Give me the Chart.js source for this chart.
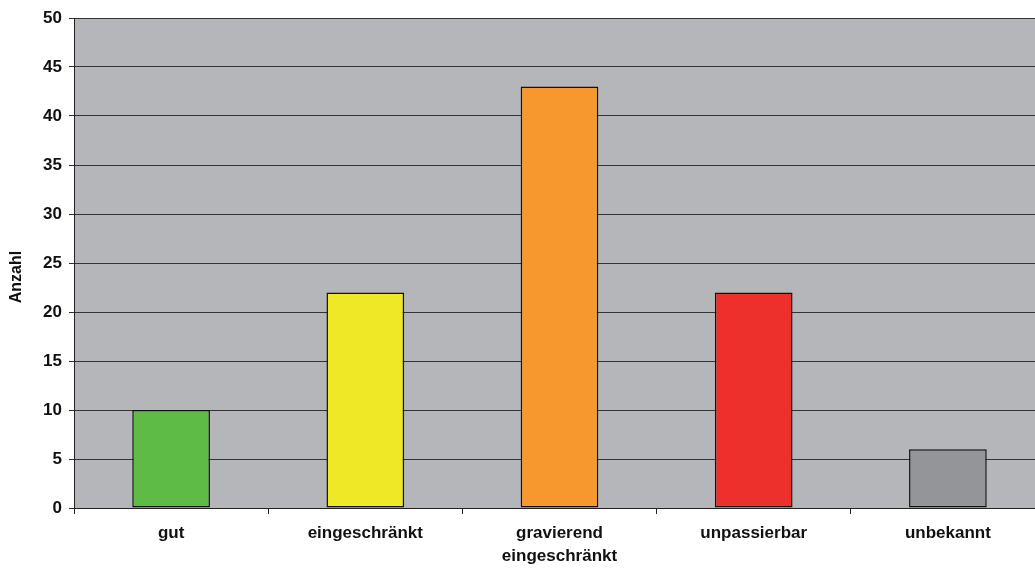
<!DOCTYPE html>
<html>
<head>
<meta charset="utf-8">
<script src="https://cdn.jsdelivr.net/npm/chart.js@4/dist/chart.umd.min.js"></script>
<style>
  html, body { margin: 0; padding: 0; background: #fff; overflow: hidden; }
  canvas { display: block; }
</style>
</head>
<body>
<canvas id="chart" width="1045" height="568"></canvas>
<script>
// Zustand der Wege
const categories = ['gut', 'eingeschränkt', ['gravierend', 'eingeschränkt'], 'unpassierbar', 'unbekannt'];
const counts = [10, 22, 43, 22, 6];
const barColors = ['#5dbb46', '#eee826', '#f6982e', '#ee302c', '#939598'];
const yTitle = 'Anzahl';

const FONT = "'Liberation Sans', Arial, sans-serif";

// grauer Hintergrund im Zeichenbereich + senkrechter Achsentitel
const plotBg = {
    id: 'plotBg',
    beforeDraw(chart) {
        const { ctx, chartArea: a } = chart;
        ctx.save();
        ctx.fillStyle = '#b5b6ba';
        ctx.fillRect(a.left, a.top, a.right - a.left, a.bottom - a.top);
        ctx.restore();
    },
    afterDraw(chart) {
        const { ctx } = chart;
        ctx.save();
        ctx.translate(17, 277);
        ctx.rotate(-Math.PI / 2);
        ctx.fillStyle = '#111';
        ctx.font = `bold 16px ${FONT}`;
        ctx.textAlign = 'center';
        ctx.textBaseline = 'middle';
        ctx.fillText(yTitle, 0, 0);
        ctx.restore();
    }
};

new Chart(document.getElementById('chart'), {
    type: 'bar',
    data: {
        labels: categories,
        datasets: [{
            data: counts,
            backgroundColor: barColors,
            borderColor: '#111',
            borderWidth: 1.5,
            borderSkipped: false,
            categoryPercentage: 1,
            barPercentage: 0.4
        }]
    },
    options: {
        responsive: false,
        animation: false,
        layout: { padding: { top: 18, right: 0, left: 0, bottom: 0 } },
        plugins: {
            legend: { display: false },
            tooltip: { enabled: false }
        },
        scales: {
            x: {
                offset: true,
                grid: { drawOnChartArea: false, color: '#222', tickLength: 6, offset: true },
                border: { color: '#222', width: 1 },
                ticks: {
                    color: '#111',
                    font: { family: FONT, size: 17, weight: 'bold', lineHeight: 1.35 },
                    padding: 8,
                    maxRotation: 0,
                    autoSkip: false
                },
                afterFit: s => { s.height = 60; }
            },
            y: {
                min: 0,
                max: 50,
                ticks: {
                    stepSize: 5,
                    color: '#111',
                    font: { family: FONT, size: 17, weight: 'bold' },
                    padding: 7
                },
                grid: { color: '#333', lineWidth: 1, tickLength: 5 },
                border: { color: '#222', width: 1 },
                afterFit: s => { s.width = 74; }
            }
        }
    },
    plugins: [plotBg]
});
</script>
</body>
</html>
